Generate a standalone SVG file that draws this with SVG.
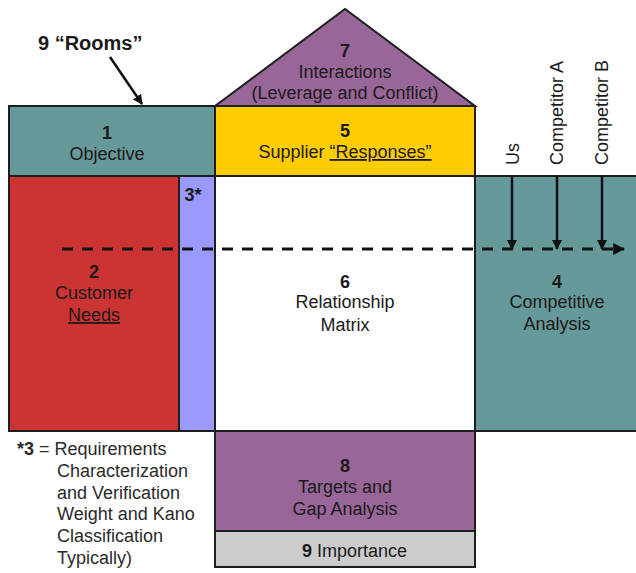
<svg xmlns="http://www.w3.org/2000/svg" width="636" height="573" viewBox="0 0 636 573">
  <style>
    .room { stroke: #1e1e1e; stroke-width: 2; }
    .t { font-family: "Liberation Sans", Arial, sans-serif; font-size: 18px; fill: #1a1a1a; text-anchor: middle; }
    .b { font-weight: bold; }
    .note { font-family: "Liberation Sans", Arial, sans-serif; font-size: 18px; fill: #2a2a2a; }
    .u { text-decoration: underline; }
    .arrow { stroke: #111; stroke-width: 2.5; fill: none; }
    .dash { stroke: #111; stroke-width: 3; fill: none; stroke-dasharray: 11 9; }
  </style>
  <defs>
    <marker id="head" viewBox="0 0 10 10" refX="9" refY="5" markerWidth="4" markerHeight="4" orient="auto" markerUnits="strokeWidth">
      <path d="M0,0 L10,5 L0,10 z" fill="#111"/>
    </marker>
  </defs>
  <rect width="636" height="573" fill="#ffffff"/>

  <!-- Room 7: roof -->
  <g id="room7">
    <polygon class="room" points="215,106 345,9 475,106" fill="#996699"/>
    <text class="t b" x="345" y="57">7</text>
    <text class="t" x="345" y="78">Interactions</text>
    <text class="t" x="345" y="99">(Leverage and Conflict)</text>
  </g>

  <!-- Room 1 -->
  <g id="room1">
    <rect class="room" x="9" y="106" width="206" height="70" fill="#669999"/>
    <text class="t b" x="107" y="139">1</text>
    <text class="t" x="107" y="160">Objective</text>
  </g>

  <!-- Room 5 -->
  <g id="room5">
    <rect class="room" x="215" y="106" width="260" height="70" fill="#ffcc00"/>
    <text class="t b" x="345" y="137">5</text>
    <text class="t" x="345" y="158">Supplier <tspan class="u">“Responses”</tspan></text>
  </g>

  <!-- Room 2 -->
  <g id="room2">
    <rect class="room" x="9" y="176" width="170" height="255" fill="#cc3333"/>
    <text class="t b" x="94" y="278">2</text>
    <text class="t" x="94" y="299">Customer</text>
    <text class="t u" x="94" y="321">Needs</text>
  </g>

  <!-- Room 3 -->
  <g id="room3">
    <rect class="room" x="179" y="176" width="36" height="255" fill="#9999ff"/>
    <text class="t b" x="193" y="201">3*</text>
  </g>

  <!-- Room 6 -->
  <g id="room6">
    <rect class="room" x="215" y="176" width="260" height="255" fill="#ffffff"/>
    <text class="t b" x="345" y="288">6</text>
    <text class="t" x="345" y="308">Relationship</text>
    <text class="t" x="345" y="331">Matrix</text>
  </g>

  <!-- Room 4 -->
  <g id="room4">
    <rect class="room" x="475" y="176" width="163" height="255" fill="#669999"/>
    <text class="t b" x="557" y="288">4</text>
    <text class="t" x="557" y="308">Competitive</text>
    <text class="t" x="557" y="330">Analysis</text>
  </g>

  <!-- Room 8 -->
  <g id="room8">
    <rect class="room" x="215" y="431" width="260" height="100" fill="#996699"/>
    <text class="t b" x="345" y="472">8</text>
    <text class="t" x="345" y="493">Targets and</text>
    <text class="t" x="345" y="515">Gap Analysis</text>
  </g>

  <!-- Room 9 -->
  <g id="room9">
    <rect class="room" x="215" y="531" width="260" height="36" fill="#cccccc"/>
    <text class="t" x="302" y="557" style="text-anchor:start"><tspan class="b">9</tspan> Importance</text>
  </g>

  <!-- Title and footnote -->
  <g id="title">
    <text class="t b" x="38" y="50" style="text-anchor:start;font-size:20px">9 “Rooms”</text>
  </g>
  <g id="footnote">
    <text class="note" x="17" y="455"><tspan class="b">*3</tspan> = Requirements</text>
    <text class="note" x="57" y="477">Characterization</text>
    <text class="note" x="57" y="499">and Verification</text>
    <text class="note" x="57" y="520">Weight and Kano</text>
    <text class="note" x="57" y="542">Classification</text>
    <text class="note" x="57" y="564">Typically)</text>
  </g>

  <!-- Competitor labels -->
  <g id="competitors">
    <text class="t" transform="translate(519,165) rotate(-90)" style="text-anchor:start">Us</text>
    <text class="t" transform="translate(563,165) rotate(-90)" style="text-anchor:start">Competitor A</text>
    <text class="t" transform="translate(608,165) rotate(-90)" style="text-anchor:start">Competitor B</text>
  </g>

  <!-- Connectors -->
  <g id="connectors">
    <line class="arrow" x1="110" y1="57" x2="142" y2="104" marker-end="url(#head)"/>
    <line class="dash" x1="62" y1="249" x2="624" y2="249" marker-end="url(#head)"/>
    <line class="arrow" x1="512" y1="176" x2="512" y2="249" marker-end="url(#head)"/>
    <line class="arrow" x1="557" y1="176" x2="557" y2="249" marker-end="url(#head)"/>
    <line class="arrow" x1="602" y1="176" x2="602" y2="249" marker-end="url(#head)"/>
  </g>
</svg>
